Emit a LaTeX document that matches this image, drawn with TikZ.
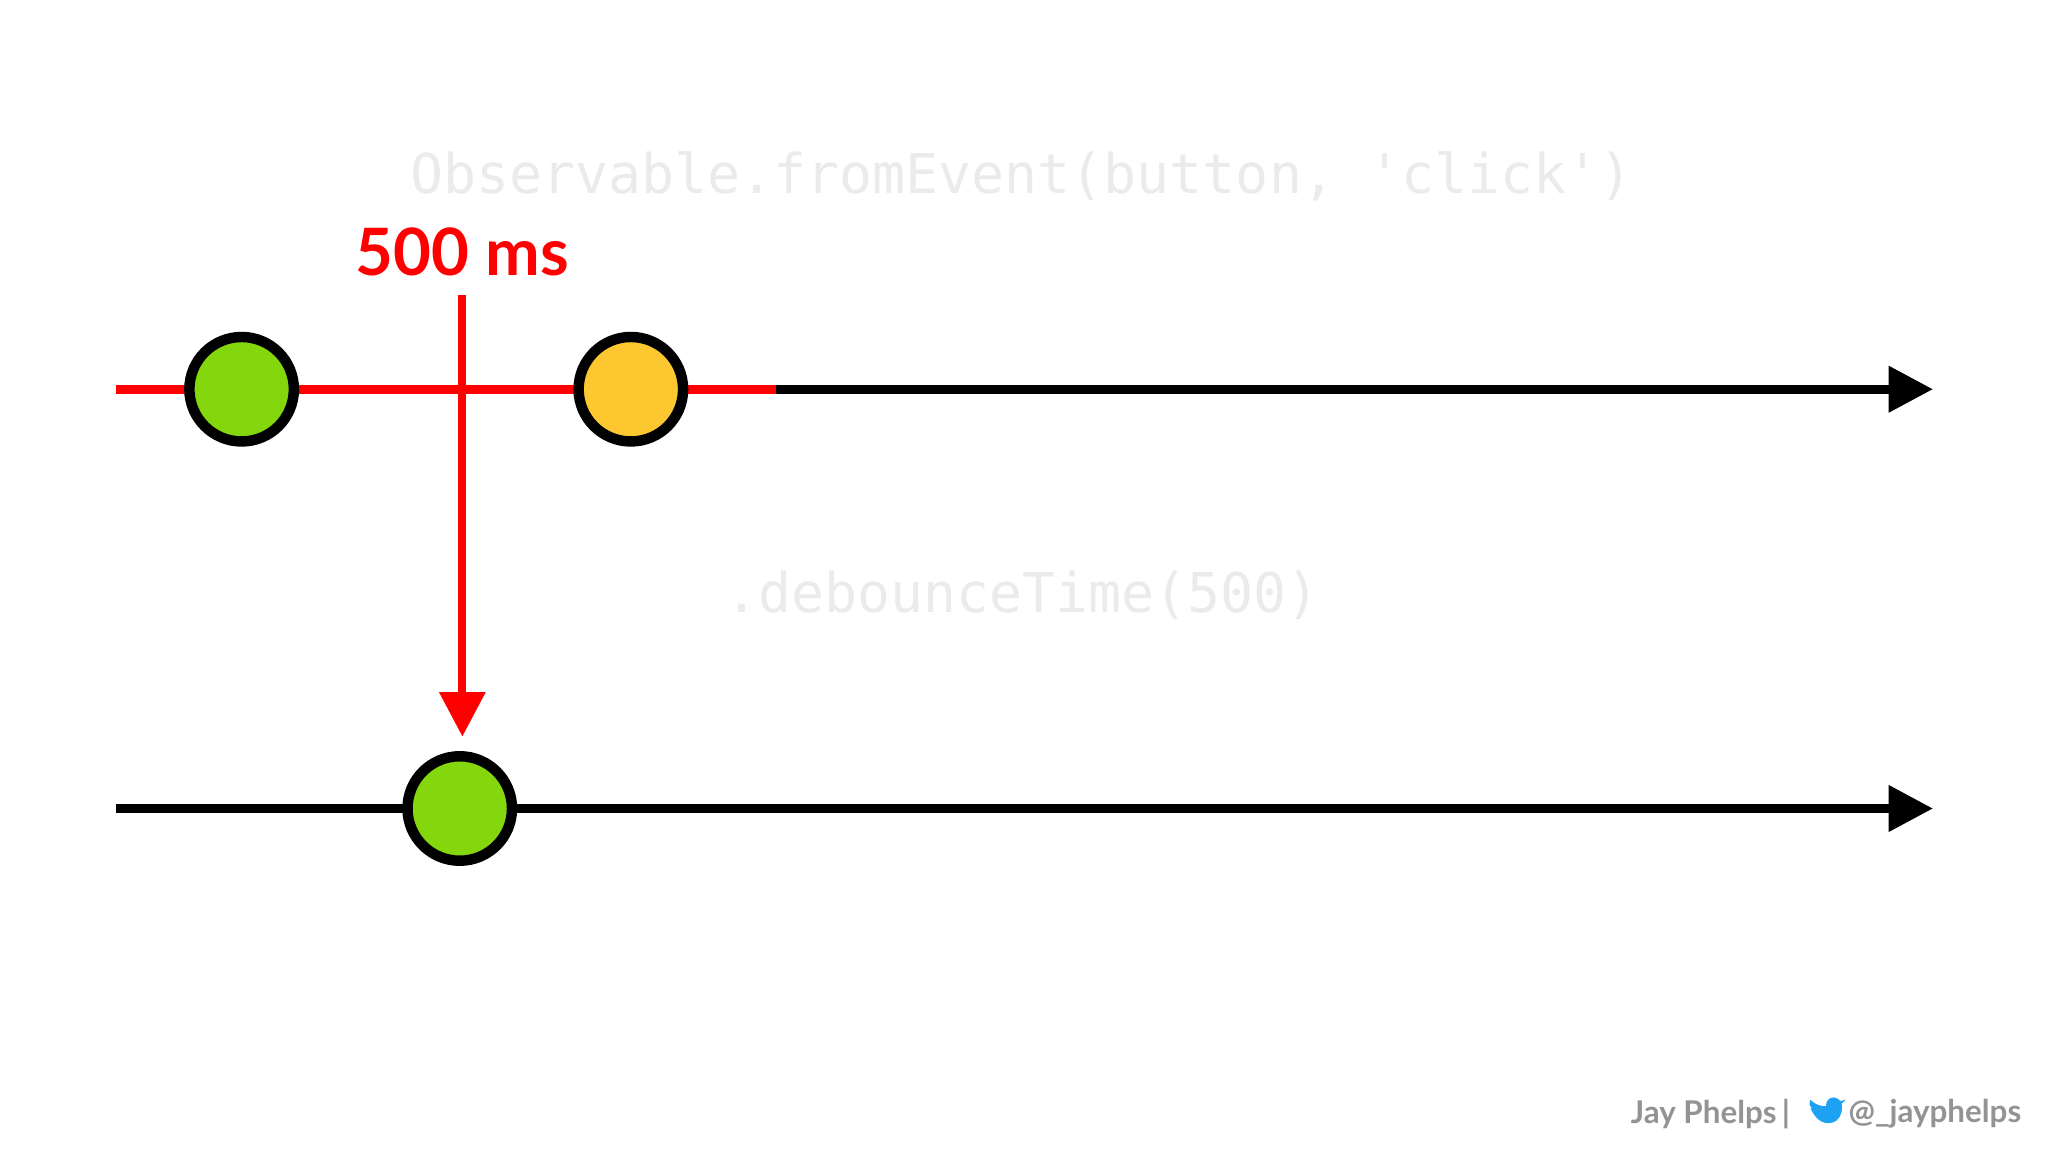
\documentclass[tikz,border=0pt]{standalone}
\usepackage{fontspec}
\setmainfont{Lato}
\setmonofont{DejaVu Sans Mono}
\usetikzlibrary{arrows.meta}
\definecolor{ggreen}{HTML}{84D60D}
\definecolor{gyellow}{HTML}{FDC82F}
\definecolor{code}{HTML}{EBEBEB}
\definecolor{tw}{HTML}{1DA1F2}
\tikzset{
  timeline/.style={line width=7pt,-{Triangle[length=34pt,width=34pt]}},
  marble/.style={circle,draw=black,line width=8pt,minimum size=80pt,inner sep=0pt},
  codetxt/.style={text=code,font=\ttfamily\fontsize{42}{42}\selectfont,anchor=center},
}
\begin{document}
\begin{tikzpicture}[x=1pt,y=-1pt]
\useasboundingbox (0,0) rectangle (1568,882);
\node[codetxt] (t1) at (782,135) {Observable.fromEvent(button, 'click')};
\node[codetxt] (t2) at (783,456) {.debounceTime(500)};
\coordinate (a1) at (89,298);
\coordinate (r1) at (594,298);
\coordinate (e1) at (1480,298);
\coordinate (a2) at (89,619);
\coordinate (e2) at (1480,619);
\draw[timeline] (r1) -- (e1);
\draw[line width=7pt,red] (a1) -- (r1);
\draw[timeline] (a2) -- (e2);
\node[text=red,font=\bfseries\fontsize{50}{50}\selectfont] (ms) at (354,193) {500 ms};
\coordinate (v1) at (354,226);
\coordinate (v2) at (354,564);
\draw[line width=6pt,red,-{Triangle[length=34pt,width=34pt]}] (v1) -- (v2);
\node[marble,fill=ggreen] (m1) at (185,298) {};
\node[marble,fill=gyellow] (m2) at (483,298) {};
\node[marble,fill=ggreen] (m3) at (352,619) {};
\node[anchor=east,text=gray!85,font=\bfseries\fontsize{24}{24}\selectfont] (f2) at (1551,853) {@\_jayphelps};
\node[anchor=east,text=gray!85,font=\bfseries\fontsize{24}{24}\selectfont] (f1) at (1374,853) {Jay Phelps\,|};
\fill[tw] (1386,848) .. controls (1390,858) and (1398,863) .. (1406,858)
  .. controls (1410,855) and (1411,848) .. (1410,845) -- (1413,842) -- (1409,843)
  .. controls (1405,838) and (1398,840) .. (1398,847)
  .. controls (1393,847) and (1389,845) .. (1386,842) .. controls (1385,846) .. (1388,849) -- cycle;
\end{tikzpicture}
\end{document}
